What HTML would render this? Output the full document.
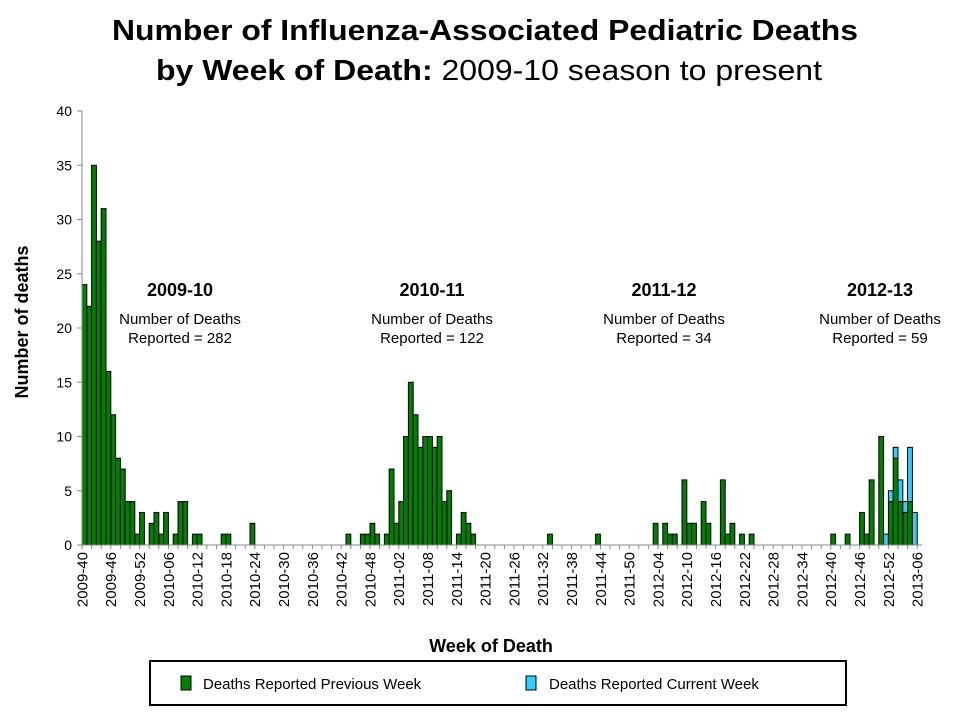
<!DOCTYPE html>
<html><head><meta charset="utf-8"><style>
body{margin:0;background:#fff;font-family:"Liberation Sans",Arial,sans-serif}
svg{display:block}
</style></head><body>
<svg id="chart" width="960" height="720" viewBox="0 0 960 720" xmlns="http://www.w3.org/2000/svg" font-family="Liberation Sans, Arial, sans-serif">
<text x="485" y="40" text-anchor="middle" font-size="29" font-weight="bold" textLength="746" lengthAdjust="spacingAndGlyphs">Number of Influenza-Associated Pediatric Deaths</text>
<text x="489" y="80" text-anchor="middle" font-size="29" textLength="666" lengthAdjust="spacingAndGlyphs"><tspan font-weight="bold">by Week of Death:</tspan> 2009-10 season to present</text>
<text transform="translate(28,322) rotate(-90)" text-anchor="middle" font-size="18" font-weight="bold">Number of deaths</text>
<text x="491" y="652" text-anchor="middle" font-size="18" font-weight="bold">Week of Death</text>
<g id="plot"></g>
<g text-anchor="middle" font-size="15">
<text x="180" y="296" font-size="18" font-weight="bold">2009-10</text>
<text x="180" y="324">Number of Deaths</text>
<text x="180" y="343">Reported = 282</text>
<text x="432" y="296" font-size="18" font-weight="bold">2010-11</text>
<text x="432" y="324">Number of Deaths</text>
<text x="432" y="343">Reported = 122</text>
<text x="664" y="296" font-size="18" font-weight="bold">2011-12</text>
<text x="664" y="324">Number of Deaths</text>
<text x="664" y="343">Reported = 34</text>
<text x="880" y="296" font-size="18" font-weight="bold">2012-13</text>
<text x="880" y="324">Number of Deaths</text>
<text x="880" y="343">Reported = 59</text>
</g>
<g>
<rect x="150" y="661" width="696" height="44" fill="#fff" stroke="#000" stroke-width="2"/>
<rect x="181" y="676" width="10" height="14" fill="#008000" stroke="#000"/>
<text x="203" y="689" font-size="15">Deaths Reported Previous Week</text>
<rect x="526" y="676" width="10" height="14" fill="#33ccff" stroke="#000"/>
<text x="549" y="689" font-size="15">Deaths Reported Current Week</text>
</g>
</svg>
<script>
// categories: weeks 2009-40 .. 2013-06
const seasonsYears = [[2009,40,52],[2010,1,52],[2011,1,52],[2012,1,52],[2013,1,6]];
const yTicks = [0,5,10,15,20,25,30,35,40];
// previous-week deaths by category index (sparse: [index, value])
const prevWeekPoints = [
[0,24],[1,22],[2,35],[3,28],[4,31],[5,16],[6,12],[7,8],[8,7],[9,4],[10,4],[11,1],[12,3],
[14,2],[15,3],[16,1],[17,3],[19,1],[20,4],[21,4],[23,1],[24,1],[29,1],[30,1],[35,2],
[55,1],[58,1],[59,1],[60,2],[61,1],[63,1],[64,7],[65,2],[66,4],[67,10],[68,15],[69,12],[70,9],[71,10],[72,10],[73,9],[74,10],[75,4],[76,5],[78,1],[79,3],[80,2],[81,1],
[97,1],[107,1],[119,2],[121,2],[122,1],[123,1],[125,6],[126,2],[127,2],[129,4],[130,2],[133,6],[134,1],[135,2],[137,1],[139,1],
[156,1],[159,1],[162,3],[163,1],[164,6],[166,10],[168,4],[169,8],[170,4],[171,3],[172,4]
];
// current-week deaths (stacked on top)
const currWeekPoints = [[167,1],[168,1],[169,1],[170,2],[171,1],[172,5],[173,3]];

const categories = [];
seasonsYears.forEach(([y,a,b])=>{for(let w=a;w<=b;w++)categories.push(y+'-'+String(w).padStart(2,'0'));});
const prev = categories.map(()=>0), curr = categories.map(()=>0);
prevWeekPoints.forEach(([i,v])=>prev[i]=v);
currWeekPoints.forEach(([i,v])=>curr[i]=v);

const X0=82,X1=922,Y0=545,Y1=111,YMAX=40;
const bw=(X1-X0)/categories.length;
const xs=i=>X0+i*bw;
const ys=v=>Y0-(v/YMAX)*(Y0-Y1);
const NS='http://www.w3.org/2000/svg';
const g=document.getElementById('plot');
function mk(tag,attrs){const e=document.createElementNS(NS,tag);for(const k in attrs)e.setAttribute(k,attrs[k]);g.appendChild(e);return e;}

categories.forEach((c,i)=>{
  if(prev[i]>0){
    const r=mk('rect',{x:xs(i),y:ys(prev[i]),width:bw,height:Y0-ys(prev[i]),fill:'#008000',stroke:'#000','stroke-width':1});
    
    
  }
  if(curr[i]>0){
    const r=mk('rect',{x:xs(i),y:ys(prev[i]+curr[i]),width:bw,height:ys(prev[i])-ys(prev[i]+curr[i]),fill:'#33ccff',stroke:'#000','stroke-width':1});
    
    
  }
});
const ya=mk('line',{x1:X0,y1:Y1,x2:X0,y2:Y0,stroke:'#888','stroke-width':1});


const xa=mk('line',{x1:X0,y1:Y0,x2:X1,y2:Y0,stroke:'#888','stroke-width':1});


yTicks.forEach(v=>{
  const t=mk('line',{x1:X0-5,y1:ys(v),x2:X0,y2:ys(v),stroke:'#888'});
  
  
  const l=mk('text',{x:X0-10,y:ys(v)+5,'text-anchor':'end','font-size':14});
  l.textContent=v;
  
  
});
for(let i=0;i<=categories.length;i+=2){
  const t=mk('line',{x1:xs(i),y1:Y0,x2:xs(i),y2:Y0+4,stroke:'#888'});
  
  
}
categories.forEach((c,i)=>{
  if(i%6!==0)return;
  const cx=xs(i)+bw/2+3;
  const l=mk('text',{transform:`translate(${cx},552) rotate(-90)`,'text-anchor':'end','font-size':15});
  l.textContent=c;
  
  
});
</script>
</body></html>
